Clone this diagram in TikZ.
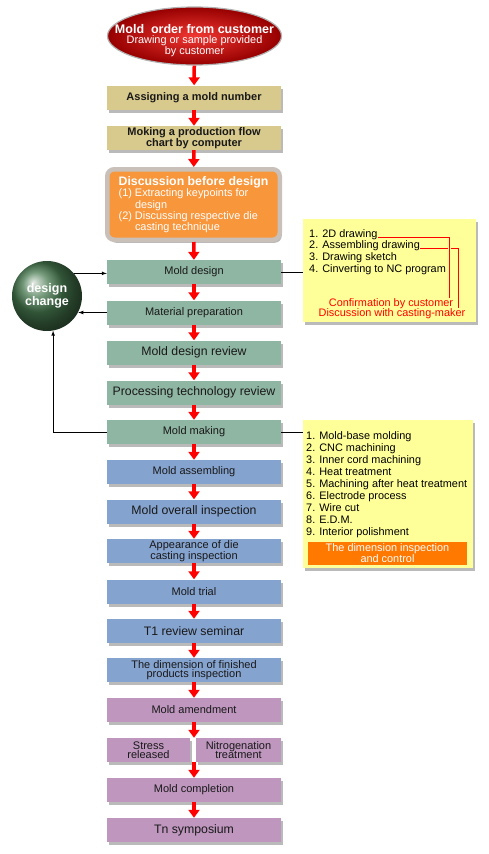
\documentclass[tikz,border=0pt]{standalone}
\usepackage{fontspec}
\setmainfont{Liberation Sans}
\usetikzlibrary{shapes.geometric,shadows,arrows.meta}
\definecolor{tanfill}{RGB}{216,201,140}
\definecolor{greenfill}{RGB}{143,181,163}
\definecolor{bluefill}{RGB}{133,163,207}
\definecolor{purplefill}{RGB}{190,150,190}
\definecolor{discorange}{RGB}{248,150,60}
\definecolor{discframe}{RGB}{200,192,185}
\definecolor{notefill}{RGB}{255,255,153}
\definecolor{notebar}{RGB}{255,120,0}
\definecolor{ballgreen}{RGB}{70,120,78}
\definecolor{orderred}{RGB}{240,55,50}
\definecolor{orderdark}{RGB}{150,0,0}

\begin{document}
\begin{tikzpicture}[x=1pt,y=-1pt]
        \useasboundingbox[fill=white] (0,0) rectangle (488,854);
        \tikzstyle{shade}=[drop shadow={shadow xshift=2pt, shadow yshift=-3pt, fill=black!60, opacity=.45}]
        \tikzstyle{stepbox}=[shade, minimum width=174pt, minimum height=24pt, inner sep=0pt, align=center, text=black!90, font=\fontsize{11}{9.5}\selectfont]
        \tikzstyle{big}=[font=\fontsize{12.3}{11}\selectfont]
        \tikzstyle{tanbox}=[stepbox, fill=tanfill, font=\bfseries\fontsize{11}{10}\selectfont]
        \tikzstyle{greenbox}=[stepbox, fill=greenfill]
        \tikzstyle{bluebox}=[stepbox, fill=bluefill]
        \tikzstyle{purplebox}=[stepbox, fill=purplefill]
        \tikzstyle{flow}=[-{Triangle[width=11pt,length=8pt]}, line width=3.5pt, red]
        \tikzstyle{link}=[black, line width=.7pt]
        \tikzstyle{note}=[shade, fill=notefill, inner sep=0pt]
        \tikzstyle{item}=[inner sep=0pt, anchor=base west, font=\fontsize{10.9}{12}\selectfont]
        \tikzstyle{remark}=[inner sep=0pt, anchor=base, text=red, font=\fontsize{10.9}{10}\selectfont]

        % start of the order
        \node[ellipse, minimum width=174pt, minimum height=58pt, inner sep=0pt,
              shading=radial, inner color=orderred, outer color=orderdark,
              draw=black!30, line width=1.2pt] (order) at (194.5,36) {};
        \node[align=center, text=white, font=\fontsize{10.9}{10}\selectfont] (ordertxt) at ([yshift=-4.5pt]order.center)
            {{\bfseries\fontsize{12.5}{10}\selectfont Mold\ \ order from customer}\\Drawing or sample provided\\by customer};

        \node[tanbox] (assign) at (194,97.5) {Assigning a mold number};
        \node[tanbox] (chart)  at (194,138)  {Moking a production flow\\chart by computer};
        \node[shade, rounded corners=7pt, fill=discorange, draw=discframe, line width=4.5pt,
              minimum width=172.5pt, minimum height=70.5pt, align=left,
              text=white, font=\fontsize{10.9}{10}\selectfont] (disc) at (193.5,204.5)
            {{\bfseries\fontsize{12.3}{10}\selectfont Discussion before design}\\
             (1) Extracting keypoints for\\\phantom{(1) }design\\
             (2) Discussing respective die\\\phantom{(1) }casting technique};

        \node[greenbox]      (md)      at (194,272)   {Mold design};
        \node[greenbox]      (prep)    at (194,312.5) {Material preparation};
        \node[greenbox, big] (review)  at (194,352.5) {Mold design review};
        \node[greenbox, big] (tech)    at (194,392.5) {Processing technology review};
        \node[greenbox]      (mm)      at (194,432)   {Mold making};
        \node[bluebox]       (assy)    at (194,472)   {Mold assembling};
        \node[bluebox, big]  (overall) at (194,511.5) {Mold overall inspection};
        \node[bluebox]       (look)    at (194,551)   {Appearance of die\\casting inspection};
        \node[bluebox]       (trial)   at (194,591.5) {Mold trial};
        \node[bluebox, big]  (t1)      at (194,631)   {T1 review seminar};
        \node[bluebox]       (dim)     at (194,670)   {The dimension of finished\\products inspection};
        \node[purplebox]     (amend)   at (194,710)   {Mold amendment};
        \node[purplebox, minimum width=83pt] (stress) at (148.5,750) {Stress\\released};
        \node[purplebox, minimum width=85pt] (nitro)  at (238.5,750) {Nitrogenation\\treatment};
        \node[purplebox]     (done)    at (194,790)   {Mold completion};
        \node[purplebox, big] (tn)     at (194,830)   {Tn symposium};

        \coordinate (gapin)  at (amend.south |- stress.north);
        \coordinate (gapout) at (done.north |- stress.south);

        % red flow
        \draw[flow] (order) -- (assign);
        \draw[flow] (assign) -- (chart);
        \draw[flow] (chart) -- (disc);
        \draw[flow] (disc) -- (md);
        \draw[flow] (md) -- (prep);
        \draw[flow] (prep) -- (review);
        \draw[flow] (review) -- (tech);
        \draw[flow] (tech) -- (mm);
        \draw[flow] (mm) -- (assy);
        \draw[flow] (assy) -- (overall);
        \draw[flow] (overall) -- (look);
        \draw[flow] (look) -- (trial);
        \draw[flow] (trial) -- (t1);
        \draw[flow] (t1) -- (dim);
        \draw[flow] (dim) -- (amend);
        \draw[flow] (amend.south) -- (gapin);
        \draw[flow] (gapout) -- (done.north);
        \draw[flow] (done) -- (tn);

        % design change loop
        \node[circle, minimum size=70pt, inner sep=0pt, shading=ball, ball color=ballgreen,
              align=center, text=white, font=\bfseries\fontsize{12.5}{10}\selectfont] (dc) at (47,296) {design\\change};
        \draw[link, -latex] (dc.40) -- (dc.40 -| md.west);
        \draw[link, -latex] (prep.west) -- (prep.west -| dc.-27);
        \draw[link, -latex] (mm.west) -| (dc.-80);

        % notes for mold design
        \node[note, minimum width=173pt, minimum height=103pt] (note1) at (389.5,270.5) {};
        \draw[link] (md.east) -- (md.east -| note1.west);
        \node[item] (d1) at (309,237)   {1. 2D drawing};
        \node[item] (d2) at (309,248.5) {2. Assembling drawing};
        \node[item] (d3) at (309,260)   {3. Drawing sketch};
        \node[item] (d4) at (309,272)   {4. Cinverting to NC program};
        \node[remark] (c1) at (391,306) {Confirmation by customer};
        \node[remark] (c2) at (392,316) {Discussion with casting-maker};
        \draw[red, line width=.8pt] (d2.base east) -| ([xshift=-7pt]c2.north east);
        \draw[red, line width=.8pt, preaction={draw=notefill, line width=3.5pt}] (d1.base east) -| ([xshift=-4pt]c1.north east);

        % notes for mold making
        \node[note, minimum width=170pt, minimum height=148pt] (note2) at (388,494) {};
        \draw[link] (mm.east) -- (mm.east -| note2.west);
        \node[inner sep=0pt, anchor=north west, align=left, font=\fontsize{10.9}{12.1}\selectfont] (steps) at (306,431)
            {1. Mold-base molding\\2. CNC machining\\3. Inner cord machining\\4. Heat treatment\\
             5. Machining after heat treatment\\6. Electrode process\\7. Wire cut\\8. E.D.M.\\9. Interior polishment};
        \node[fill=notebar, minimum width=159pt, minimum height=23pt, inner sep=0pt, align=center,
              text=white, font=\fontsize{10.9}{10}\selectfont] (bar) at (387.5,553.5) {The dimension inspection\\and control};
\end{tikzpicture}
\end{document}
